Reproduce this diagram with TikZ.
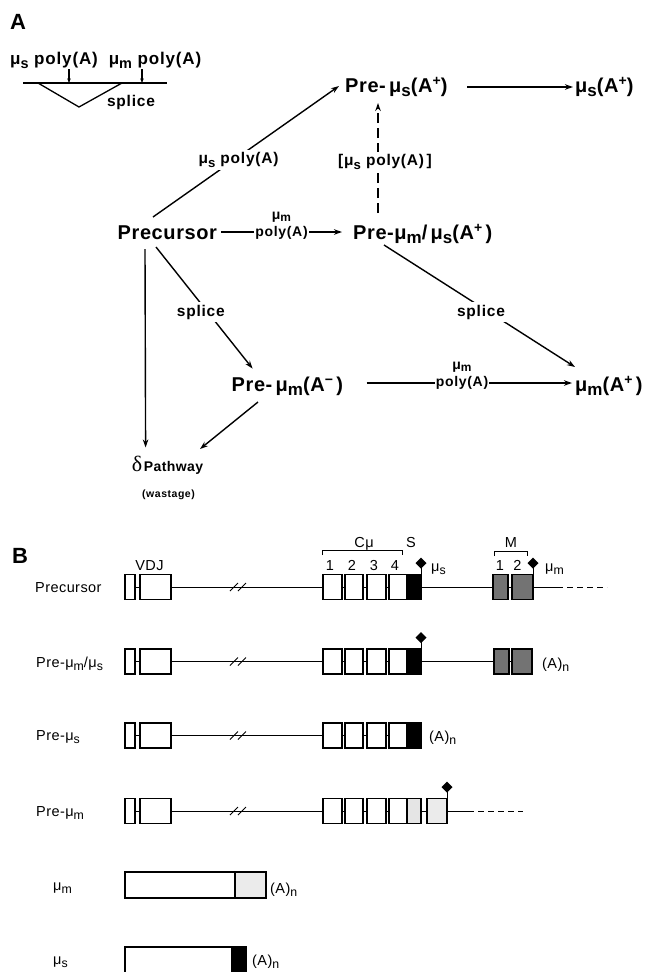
\documentclass[tikz,border=0pt]{standalone}
\usepackage{fontspec}
\setmainfont{Liberation Sans}
\newfontfamily\mfont[LetterSpace=3]{Liberation Sans}
\newfontfamily\lfont[LetterSpace=5]{Liberation Sans}
\newfontfamily\bfont[LetterSpace=3]{Liberation Sans}
\newfontfamily\dfont{Liberation Serif}
\usepackage{graphicx}
\usetikzlibrary{arrows.meta}
\newcommand{\dn}[1]{\raisebox{-0.45ex}{\scalebox{0.85}{#1}}}
\newcommand{\dnn}[1]{\raisebox{-0.2ex}{\scalebox{0.85}{#1}}}
\newcommand{\up}[1]{\raisebox{0.65ex}{\scalebox{0.7}{#1}}}
\newcommand{\leftpart}[1]{%
  \draw[gline] (230,#1+4) -- (238,#1-4);
  \draw[gline] (238,#1+4) -- (246,#1-4);
  \draw[exon] (125,#1-12.5) rectangle (135,#1+12.5);
  \draw[exon] (140,#1-12.5) rectangle (171,#1+12.5);
  \draw[exon] (323,#1-12.5) rectangle (342,#1+12.5);
  \draw[exon] (345,#1-12.5) rectangle (363,#1+12.5);
  \draw[exon] (367,#1-12.5) rectangle (386,#1+12.5);
  \draw[exon] (389,#1-12.5) rectangle (407,#1+12.5);
}
\newcommand{\lollipop}[2]{%
  \draw[gline] (#1,#2-12.5) -- (#1,#2-20);
  \fill (#1,#2-29.5) -- (#1+5.5,#2-24) -- (#1,#2-18.5) -- (#1-5.5,#2-24) -- cycle;
}
\begin{document}
\begin{tikzpicture}[x=1pt,y=-1pt,
  mainlab/.style={font=\mfont\bfseries\fontsize{20}{22}\selectfont, inner sep=0pt, anchor=base west},
  edgelab/.style={font=\lfont\bfseries\fontsize{15.5}{16}\selectfont, fill=white, inner sep=2.5pt, align=center},
  stacklab/.style={font=\lfont\bfseries\fontsize{14}{17}\selectfont, fill=white, inner sep=1pt, align=center},
  arr/.style={line width=1.4pt, -{Stealth[length=8pt,width=5.5pt]}},
  dasharr/.style={arr, dash pattern=on 10pt off 5pt},
  thinarr/.style={line width=1.2pt, -{Stealth[length=4.5pt,width=3.5pt]}},
  gline/.style={line width=0.9pt},
  exon/.style={draw, line width=1.2pt, fill=white},
  blab/.style={font=\bfont\fontsize{14.5}{16}\selectfont, inner sep=0pt, anchor=base west},
  bnum/.style={font=\bfont\fontsize{14.5}{16}\selectfont, inner sep=0pt, anchor=base},
  panel/.style={font=\bfseries\fontsize{22}{24}\selectfont, inner sep=0pt, anchor=base west}
]
\useasboundingbox[fill=white] (0,0) rectangle (653,972);

% ---------------- Panel A ----------------
\node[panel] (pA) at (10,29) {A};

% inset
\node[edgelab, font=\lfont\bfseries\fontsize{17}{18}\selectfont, fill=none, inner sep=0pt] (ins1) at (54,60) {μ\dn{s} poly(A)};
\node[edgelab, font=\lfont\bfseries\fontsize{17}{18}\selectfont, fill=none, inner sep=0pt] (ins2) at (155,60) {μ\dn{m} poly(A)};
\node[edgelab, fill=none, inner sep=0pt] (ins3) at (131,102) {splice};
\coordinate (cut1) at (69,83);
\coordinate (cut2) at (142,83);
\draw[line width=1.3pt] (23,83) -- (167,83);
\draw[line width=1.3pt] (38,83) -- (79,107) -- (122,83);
\draw[thinarr] ([shift={(15,9)}]ins1.center) -- (cut1);
\draw[thinarr] ([shift={(-13,9)}]ins2.center) -- (cut2);

% main nodes
\node[mainlab] (premus) at (345,92) {Pre-\,μ\dn{s}(A\up{+})};
\node[mainlab] (mus) at (575,92) {μ\dn{s}(A\up{+})};
\node[mainlab] (prec) at (117.5,239) {Precursor};
\node[mainlab] (premm) at (353,239) {Pre-μ\dn{m}/\,μ\dn{s}(A\up{+}\,)};
\node[mainlab] (premmA) at (231.5,391) {Pre-\,μ\dn{m}(A\up{−}\,)};
\node[mainlab] (mumA) at (575,391) {μ\dn{m}(A\up{+}\,)};
\node[inner sep=0pt, anchor=base west] (delta) at (131.6,471)
  {{\dfont\fontsize{22}{22}\selectfont δ}\,{\lfont\bfseries\addfontfeature{LetterSpace=3}\fontsize{14}{15}\selectfont Pathway}};
\node[inner sep=0pt, anchor=base west, font=\lfont\bfseries\fontsize{10.5}{11}\selectfont] (wast) at (142,497) {(wastage)};

% connectors
\draw[arr] ([shift={(35.5,-22)}]prec.base west) -- ([shift={(-6,-6)}]premus.base west);
\draw[arr] ([shift={(122,-5)}]premus.base west) -- ([shift={(-2,-5)}]mus.base west);
\draw[dasharr] ([shift={(25,-26)}]premm.base west) -- ([shift={(33,11)}]premus.base west);
\draw[arr] ([shift={(103.5,-7)}]prec.base west) -- ([shift={(-11,-7)}]premm.base west);
\draw[arr] ([shift={(38.5,8)}]prec.base west) -- ([shift={(21.1,-22.4)}]premmA.base west);
\draw[arr] ([shift={(31,6)}]premm.base west) -- ([shift={(0,-24)}]mumA.base west);
\draw[arr] ([shift={(135,-8)}]premmA.base west) -- ([shift={(-3,-8)}]mumA.base west);
\draw[arr] ([shift={(27.5,10)}]prec.base west) -- ([shift={(14,-23.5)}]delta.base west);
\draw[arr] ([shift={(26.5,11)}]premmA.base west) -- ([shift={(68.4,-22)}]delta.base west);

% edge labels
\node[edgelab] (l1) at (238.5,160) {μ\dn{s} poly(A)};
\node[edgelab] (l2) at (385,162) {[μ\dn{s} poly(A)\,]};
\node[stacklab] (l3) at (281.5,226) {μ\dnn{m}\\poly(A)};
\node[edgelab] (l4) at (200.8,312) {splice};
\node[edgelab] (l5) at (481,312) {splice};
\node[stacklab] (l6) at (462,376) {μ\dnn{m}\\poly(A)};

% ---------------- Panel B ----------------
\node[panel] (pB) at (12,563) {B};

% headers
\node[bnum] (hvdj) at (149.5,570) {VDJ};
\node[bnum] (hcmu) at (364,547) {Cμ};
\node[bnum] (hS) at (411,547) {S};
\node[bnum] (hM) at (511,547) {M};
\draw[gline] (322,555) -- (322,550) -- (402,550) -- (402,555);
\draw[gline] (494,556) -- (494,551) -- (527,551) -- (527,556);
\node[bnum] (n1) at (330,570) {1};
\node[bnum] (n2) at (352,570) {2};
\node[bnum] (n3) at (374,570) {3};
\node[bnum] (n4) at (395,570) {4};
\node[bnum] (m1) at (500,570) {1};
\node[bnum] (m2) at (517.5,570) {2};
\node[blab] (tmus) at (431,571) {μ\dn{s}};
\node[blab] (tmum) at (545,571) {μ\dn{m}};

% row labels
\node[blab] (r1) at (35,592.5) {Precursor};
\node[blab] (r2) at (36,667) {Pre-μ\dn{m}/μ\dn{s}};
\node[blab] (r3) at (36,740) {Pre-μ\dn{s}};
\node[blab] (r4) at (36,816.5) {Pre-μ\dn{m}};
\node[blab] (r5) at (53,890) {μ\dn{m}};
\node[blab] (r6) at (53,964) {μ\dn{s}};

% row 1
\draw[gline] (130,587) -- (557,587);
\draw[gline, dash pattern=on 6pt off 4pt] (557,587) -- (607,587);
\leftpart{587}
\draw[exon, fill=black] (407,574.5) rectangle (421,599.5);
\draw[exon, fill=black!55] (493,574.5) rectangle (508,599.5);
\draw[exon, fill=black!55] (512,574.5) rectangle (533,599.5);
\lollipop{421}{587}
\lollipop{533}{587}

% row 2
\draw[gline] (130,661.5) -- (532,661.5);
\leftpart{661.5}
\draw[exon, fill=black] (407,649) rectangle (421,674);
\draw[exon, fill=black!55] (494,649) rectangle (509,674);
\draw[exon, fill=black!55] (512,649) rectangle (532,674);
\lollipop{421}{661.5}
\node[blab] (an2) at (542,668) {(A)\dn{n}};

% row 3
\draw[gline] (130,735.5) -- (420,735.5);
\leftpart{735.5}
\draw[exon, fill=black] (407,723) rectangle (421,748);
\node[blab] (an3) at (429,741) {(A)\dn{n}};

% row 4
\draw[gline] (130,811) -- (468,811);
\draw[gline, dash pattern=on 6pt off 4pt] (468,811) -- (523,811);
\leftpart{811}
\draw[exon, fill=black!10] (407,798.5) rectangle (421,823.5);
\draw[exon, fill=black!8] (427,798.5) rectangle (447,823.5);
\lollipop{447}{811}

% row 5
\draw[exon] (125,872) rectangle (235,898);
\draw[exon, fill=black!8] (235,872) rectangle (266,898);
\node[blab] (an5) at (270,893) {(A)\dn{n}};

% row 6
\draw[exon] (125,947) rectangle (232,973);
\draw[exon, fill=black] (232,947) rectangle (246,973);
\node[blab] (an6) at (252,965.5) {(A)\dn{n}};
\end{tikzpicture}
\end{document}
